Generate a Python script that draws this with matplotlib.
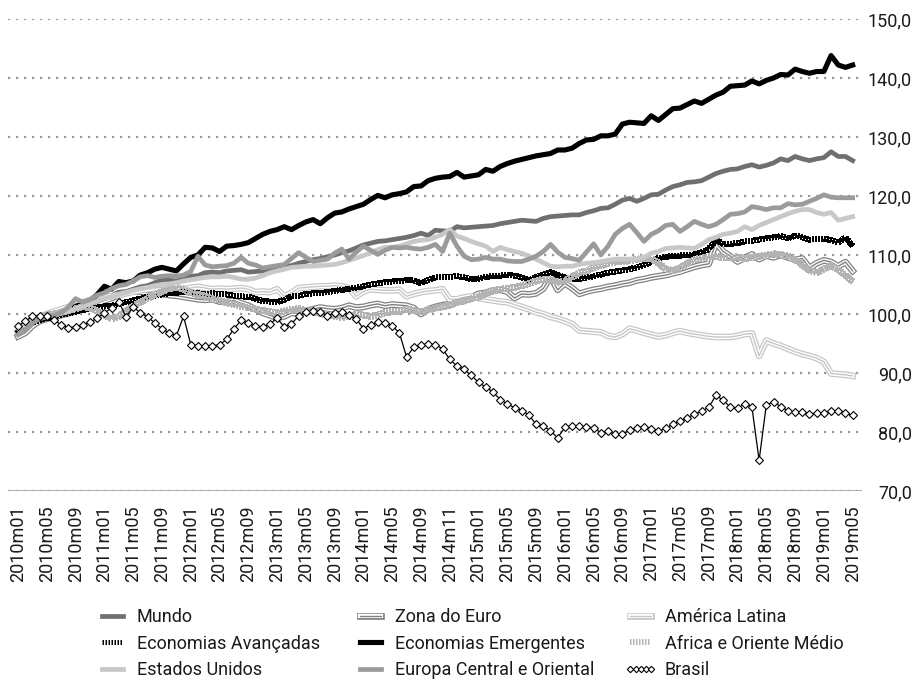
import numpy as np
import matplotlib
matplotlib.use('Agg')
import matplotlib.pyplot as plt
import matplotlib.patheffects as pe

plt.rcParams['font.family'] = ['Roboto', 'DejaVu Sans']

tick_labels = ['2010m01', '2010m05', '2010m09', '2011m01', '2011m05', '2011m09',
               '2012m01', '2012m05', '2012m09', '2013m01', '2013m05', '2013m09',
               '2014m01', '2014m05', '2014m09', '2014m11', '2015m01', '2015m05',
               '2015m09', '2016m01', '2016m05', '2016m09', '2017m01', '2017m05',
               '2017m09', '2018m01', '2018m05', '2018m09', '2019m01', '2019m05']

mundo = [96.8, 97.5, 98.6, 99.0, 99.3, 99.6, 99.9, 100.3, 100.8, 101.2,
         101.7, 102.3, 102.9, 103.1, 103.7, 103.8, 104.2, 104.6, 104.8, 105.3,
         105.8, 105.7, 105.6, 106.0, 106.4, 106.5, 107.0, 107.1, 107.0, 107.3,
         107.4, 107.5, 107.1, 107.2, 107.3, 107.6, 107.9, 108.0, 108.2, 108.6,
         108.9, 109.2, 109.4, 109.7, 110.0, 110.4, 110.7, 111.2, 111.7, 112.0,
         112.3, 112.4, 112.6, 112.8, 113.0, 113.3, 113.7, 113.3, 114.2, 114.1,
         114.0, 114.8, 114.6, 114.7, 114.8, 114.9, 115.0, 115.3, 115.5, 115.7,
         115.9, 115.8, 115.7, 116.2, 116.5, 116.6, 116.7, 116.8, 116.8, 117.2,
         117.5, 117.9, 118.0, 118.6, 119.3, 119.6, 119.1, 119.6, 120.2, 120.3,
         121.0, 121.6, 121.9, 122.3, 122.4, 122.6, 123.2, 123.8, 124.2, 124.5,
         124.6, 125.0, 125.3, 124.9, 125.2, 125.6, 126.3, 126.0, 126.7, 126.3,
         126.0, 126.3, 126.5, 127.5, 126.7, 126.7, 126.0]

zona_euro = [96.2, 96.8, 98.0, 98.8, 99.2, 99.5, 99.8, 100.1, 100.5, 100.9,
             101.3, 101.8, 102.3, 102.7, 103.2, 103.6, 103.9, 103.8, 103.6, 103.5,
             103.4, 103.2, 103.1, 102.9, 102.7, 102.5, 102.4, 102.5, 102.1, 102.0,
             102.3, 101.8, 101.4, 100.8, 100.2, 99.8, 99.3, 99.6, 100.2, 100.1,
             100.5, 100.8, 101.1, 100.9, 100.8, 101.0, 101.4, 101.1, 101.2, 101.5,
             101.7, 101.4, 101.6, 101.5, 101.4, 101.0, 100.0, 100.8, 101.2, 101.5,
             101.7, 102.0, 102.2, 102.8, 103.4, 103.6, 104.0, 104.1, 103.8, 102.7,
             103.4, 103.3, 103.5, 104.3, 106.3, 104.1, 105.2, 104.4, 103.4, 103.8,
             104.1, 104.3, 104.6, 104.8, 105.1, 105.3, 105.7, 105.9, 106.2, 106.4,
             106.6, 106.9, 107.2, 107.6, 108.0, 108.3, 108.5, 112.1, 110.6, 109.8,
             108.9, 109.5, 110.1, 109.3, 109.9, 109.6, 110.0, 109.6, 109.2, 109.4,
             107.8, 108.6, 109.1, 108.8, 108.1, 108.8, 107.3]

america_latina = [97.0, 97.8, 98.8, 99.5, 100.0, 100.4, 100.8, 101.2, 101.6, 102.0,
                  102.3, 102.6, 102.9, 103.0, 103.2, 103.5, 103.8, 104.0, 104.2, 104.4,
                  104.5, 104.3, 104.1, 104.2, 104.4, 104.6, 104.4, 104.2, 104.3, 104.2,
                  104.3, 104.4, 104.2, 103.7, 103.8, 103.7, 104.2, 103.0, 103.6, 104.4,
                  104.5, 104.6, 104.7, 104.7, 104.8, 104.7, 104.4, 103.0, 103.8, 104.2,
                  104.1, 104.0, 104.0, 104.1, 103.0, 103.4, 103.7, 103.9, 104.0, 104.2,
                  102.5, 102.5, 102.8, 103.0, 102.7, 102.5, 102.3, 102.1, 102.0, 101.6,
                  101.2, 100.8, 100.3, 100.0, 99.5, 99.2, 98.8, 98.3, 97.2, 97.1,
                  97.0, 96.9, 96.3, 96.1, 96.6, 97.5, 97.2, 96.8, 96.5, 96.2,
                  96.4, 96.8, 97.1, 96.8, 96.6, 96.4, 96.2, 96.1, 96.1, 96.1,
                  96.3, 96.6, 96.7, 92.9, 95.5, 95.0, 94.6, 94.1, 93.6, 93.2,
                  92.9, 92.5, 91.9, 89.9, 89.8, 89.7, 89.5]

econ_avancadas = [97.2, 97.8, 98.6, 99.0, 99.3, 99.6, 99.9, 100.1, 100.4, 100.7,
                  100.9, 101.1, 101.3, 101.4, 101.7, 102.0, 102.3, 102.6, 102.9, 103.1,
                  103.3, 103.5, 103.6, 103.8, 103.7, 103.5, 103.4, 103.5, 103.4, 103.3,
                  103.1, 103.0, 102.9, 102.6, 102.2, 102.1, 102.0, 102.4, 103.0, 103.1,
                  103.4, 103.5, 103.6, 103.7, 103.9, 104.1, 104.2, 104.5, 104.7, 105.0,
                  105.2, 105.4, 105.5, 105.6, 105.7, 105.7, 105.2, 105.8, 106.2, 106.2,
                  106.3, 106.4, 106.2, 105.9, 106.0, 106.3, 106.4, 106.5, 106.6, 106.5,
                  106.2, 105.7, 106.3, 106.7, 107.1, 106.6, 106.2, 106.0, 105.9, 106.2,
                  106.4, 106.7, 107.0, 107.2, 107.4, 107.6, 107.9, 108.3, 108.8, 109.5,
                  109.7, 109.8, 109.9, 110.0, 110.1, 110.5, 111.0, 112.6, 111.8, 111.9,
                  112.0, 112.3, 112.4, 112.6, 112.8, 113.0, 113.2, 112.8, 113.3, 113.0,
                  112.6, 112.7, 112.8, 112.5, 112.1, 113.0, 111.5]

econ_emergentes = [97.0, 97.8, 98.8, 99.2, 99.5, 99.8, 100.0, 100.6, 101.3, 101.8,
                   102.2, 103.3, 104.7, 104.2, 105.5, 105.3, 105.6, 106.6, 107.0, 107.6,
                   107.9, 107.6, 107.3, 108.5, 109.6, 110.0, 111.3, 111.2, 110.6, 111.5,
                   111.6, 111.8, 112.1, 112.8, 113.5, 114.0, 114.3, 114.8, 114.3, 115.0,
                   115.6, 116.0, 115.3, 116.3, 117.1, 117.3, 117.8, 118.2, 118.6, 119.4,
                   120.1, 119.7, 120.2, 120.4, 120.7, 121.6, 121.7, 122.6, 123.0, 123.2,
                   123.3, 124.0, 123.2, 123.4, 123.6, 124.5, 124.2, 125.0, 125.5, 125.9,
                   126.2, 126.5, 126.8, 127.0, 127.2, 127.8, 127.8, 128.1, 128.9, 129.5,
                   129.6, 130.2, 130.2, 130.5, 132.2, 132.5, 132.4, 132.3, 133.6, 132.8,
                   133.8, 134.8, 134.9, 135.5, 136.1, 135.7, 136.4, 137.1, 137.6, 138.6,
                   138.7, 138.8, 139.5, 139.0, 139.6, 140.0, 140.6, 140.5, 141.5, 141.1,
                   140.8, 141.1, 141.1, 143.8, 142.2, 141.8, 142.2]

africa_om = [97.4, 98.0, 98.9, 99.5, 99.8, 100.0, 100.3, 100.6, 100.9, 101.3,
             101.0, 100.5, 99.8, 99.2, 99.6, 100.5, 101.3, 102.0, 102.6, 103.2,
             103.8, 104.3, 104.6, 104.2, 103.6, 103.3, 103.0, 102.6, 102.3, 101.9,
             101.6, 101.3, 101.1, 100.8, 100.6, 100.4, 100.2, 100.5, 100.8, 100.9,
             100.6, 100.3, 100.1, 99.8, 99.6, 99.4, 99.6, 100.0, 99.8, 99.6,
             99.8, 100.2, 100.4, 100.5, 100.8, 100.6, 100.3, 100.7, 101.0, 101.2,
             101.5, 102.0, 102.3, 102.6, 102.9, 103.5, 103.9, 104.2, 104.3, 104.5,
             104.8, 105.2, 105.6, 105.9, 105.7, 105.4, 105.6, 106.3, 107.0, 107.3,
             107.8, 108.2, 108.6, 108.8, 108.9, 109.0, 109.3, 109.4, 109.5, 108.6,
             107.6, 107.4, 107.8, 108.6, 109.2, 109.5, 109.7, 109.8, 109.5, 109.6,
             109.7, 109.4, 109.6, 109.8, 110.0, 110.2, 110.1, 109.8, 109.2, 108.3,
             107.4, 107.0, 107.6, 108.2, 107.5, 106.5, 105.5]

estados_unidos = [97.6, 98.3, 99.0, 99.3, 99.6, 99.9, 100.1, 100.4, 100.9, 101.3,
                  101.7, 102.2, 102.7, 102.9, 103.3, 103.6, 104.0, 104.3, 104.5, 104.8,
                  105.0, 105.1, 105.3, 105.6, 105.8, 106.0, 106.2, 106.3, 106.3, 106.4,
                  106.2, 105.9, 105.9, 106.1, 106.5, 107.0, 107.3, 107.6, 107.9, 108.0,
                  108.1, 108.1, 108.2, 108.3, 108.4, 108.7, 109.1, 109.5, 109.9, 110.4,
                  110.9, 111.3, 111.3, 111.5, 111.9, 112.3, 112.5, 112.6, 113.0, 113.5,
                  114.3, 113.2, 112.8, 112.3, 111.9, 111.5, 110.6, 111.3, 110.9, 110.6,
                  110.3, 109.8, 109.3, 108.7, 108.1, 108.0, 108.1, 108.1, 108.4, 108.6,
                  108.7, 108.9, 109.1, 109.3, 109.3, 109.3, 109.3, 109.6, 110.3, 110.6,
                  111.1, 111.2, 111.3, 111.2, 111.1, 111.8, 112.6, 113.0, 113.5, 113.7,
                  114.0, 114.8, 114.3, 115.0, 115.5, 116.0, 116.5, 117.0, 117.4, 117.7,
                  117.7, 117.2, 116.9, 117.2, 115.9, 116.2, 116.5]

europa_central = [96.5, 97.3, 98.5, 99.2, 99.5, 99.8, 100.2, 101.2, 102.6, 102.0,
                  102.5, 103.2, 103.6, 104.3, 104.8, 105.0, 105.6, 106.3, 106.5, 106.2,
                  106.4, 106.5, 106.4, 106.6, 107.2, 109.8, 108.3, 108.0, 108.1, 108.2,
                  108.6, 109.6, 108.6, 108.3, 107.8, 108.0, 108.2, 108.4, 109.4, 110.4,
                  109.6, 108.9, 109.1, 109.3, 110.3, 111.0, 109.3, 110.5, 111.5, 110.8,
                  110.1, 110.8, 111.3, 111.2, 111.3, 111.1, 111.0, 111.3, 111.8, 110.6,
                  113.7, 111.5, 109.8, 109.2, 109.3, 109.6, 109.3, 109.3, 109.0, 108.9,
                  108.9, 109.3, 109.8, 110.6, 111.8, 110.5, 109.6, 109.4, 109.1, 110.5,
                  111.9, 110.0, 111.5, 113.5, 114.5, 115.2, 113.8, 112.3, 113.5, 114.1,
                  115.0, 115.2, 114.0, 114.8, 115.7, 115.2, 114.8, 115.2, 116.0, 116.9,
                  117.0, 117.3, 118.2, 118.0, 117.7, 118.0, 118.0, 118.7, 118.5, 118.6,
                  119.1, 119.6, 120.2, 119.8, 119.7, 119.7, 119.7]

brasil = [98.0, 98.8, 99.6, 99.7, 99.6, 98.9, 98.2, 97.7, 97.8, 98.2,
          98.6, 99.3, 100.2, 101.0, 102.1, 99.5, 101.2, 100.2, 99.5, 98.5,
          97.5, 96.8, 96.3, 99.6, 94.8, 94.6, 94.6, 94.6, 94.8, 95.7,
          97.5, 98.9, 98.4, 98.0, 97.8, 98.3, 99.3, 97.8, 98.3, 99.7,
          100.3, 100.5, 100.4, 99.7, 100.2, 100.3, 99.8, 99.2, 97.5, 98.2,
          98.6, 98.4, 98.0, 96.8, 92.7, 94.4, 94.8, 94.9, 94.8, 94.1,
          92.3, 91.2, 90.6, 89.6, 88.4, 87.6, 86.8, 85.5, 84.8, 84.1,
          83.6, 82.9, 81.3, 81.0, 80.2, 79.0, 80.8, 81.1, 81.0, 80.9,
          80.7, 79.9, 80.1, 79.6, 79.6, 80.3, 80.7, 80.9, 80.5, 80.1,
          80.6, 81.3, 81.9, 82.4, 83.0, 83.5, 84.2, 86.2, 85.4, 84.2,
          84.0, 84.8, 84.2, 75.2, 84.6, 85.1, 84.3, 83.6, 83.4, 83.4,
          83.1, 83.2, 83.3, 83.6, 83.6, 83.3, 82.8]

fig = plt.figure(figsize=(9.17, 6.83), dpi=100)
ax = fig.add_axes([8 / 917, 1 - 491 / 683, 854 / 917, 472 / 683])


def triple(col):
    return [pe.Stroke(linewidth=4.8, foreground=col),
            pe.Stroke(linewidth=3.0, foreground='white'),
            pe.Normal()]


x = np.arange(len(mundo))
h = {}
h['Mundo'], = ax.plot(x, mundo, color='#6f6f6f', lw=3.4)
h['Zona do Euro'], = ax.plot(x, zona_euro, color='#808080', lw=1.0, path_effects=triple('#808080'))
h['América Latina'], = ax.plot(x, america_latina, color='#c6c6c6', lw=1.0, path_effects=triple('#c6c6c6'))
h['Economias Avançadas'], = ax.plot(x, econ_avancadas, color='black', lw=3.6, dashes=(0.3, 0.3),
                                    antialiased=False)
h['Economias Emergentes'], = ax.plot(x, econ_emergentes, color='black', lw=3.7)
h['Africa e Oriente Médio'], = ax.plot(x, africa_om, color='#b3b3b3', lw=4.3, dashes=(0.25, 0.25),
                                       antialiased=False)
h['Estados Unidos'], = ax.plot(x, estados_unidos, color='#c8c8c8', lw=3.4)
h['Europa Central e Oriental'], = ax.plot(x, europa_central, color='#9b9b9b', lw=3.4)
h['Brasil'], = ax.plot(x, brasil, color='black', lw=0.9, marker='D', ms=3.8,
                       mfc='white', mec='black', mew=0.8)

ax.set_ylim(70, 150)
ax.set_xlim(-1.4, 117.3)
ax.set_yticks(np.arange(70, 151, 10))
ax.set_yticklabels([f'{v:.1f}'.replace('.', ',') for v in np.arange(70, 151, 10)])
ax.yaxis.tick_right()
ax.tick_params(axis='y', length=0, pad=36, labelsize=13, labelcolor='#1a1a1a')
for lab in ax.get_yticklabels():
    lab.set_horizontalalignment('right')
ax.set_xticks(np.arange(len(tick_labels)) * 4)
ax.set_xticklabels(tick_labels, rotation=90, fontsize=13, color='#1a1a1a')
ax.tick_params(axis='x', length=0, pad=10)
ax.yaxis.grid(True, linestyle=(0, (1, 2.6)), lw=1.6, color='#9a9a9a')
ax.set_axisbelow(True)
ax.axhline(70, color='#a6a6a6', lw=2.0, zorder=1)
for s in ax.spines.values():
    s.set_visible(False)

cols = [['Mundo', 'Economias Avançadas', 'Estados Unidos'],
        ['Zona do Euro', 'Economias Emergentes', 'Europa Central e Oriental'],
        ['América Latina', 'Africa e Oriente Médio', 'Brasil']]
col_x = [97, 355, 625]
for names, cx in zip(cols, col_x):
    leg = fig.legend([h[n] for n in names], names, loc='upper left',
                     bbox_to_anchor=(cx / 917, 1 - 608 / 683), frameon=False,
                     fontsize=13, handlelength=1.75, handletextpad=0.45,
                     labelspacing=0.48, borderpad=0, borderaxespad=0,
                     numpoints=5, markerscale=0.85)
    for t in leg.get_texts():
        t.set_color('#1a1a1a')

fig.savefig('out.png', dpi=100)
